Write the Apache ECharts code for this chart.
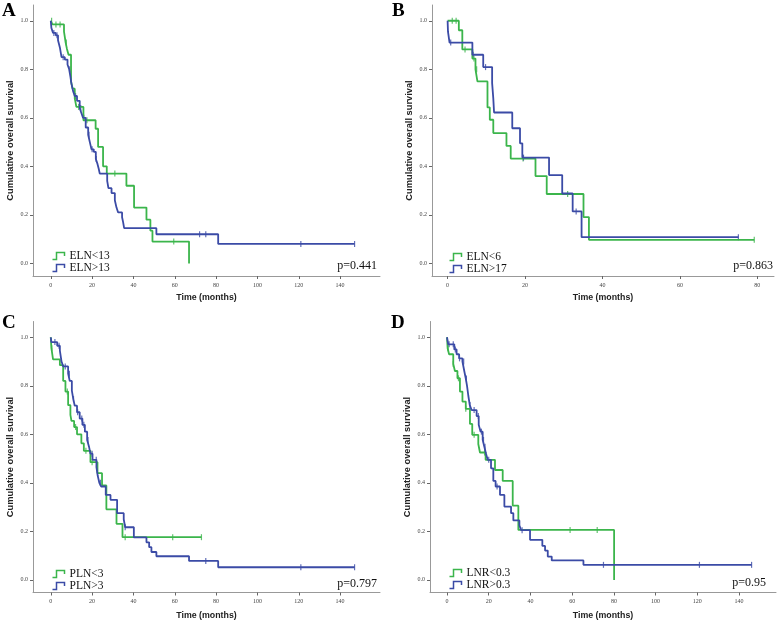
<!DOCTYPE html>
<html><head><meta charset="utf-8">
<script src="https://cdn.jsdelivr.net/npm/echarts@6/dist/echarts.min.js"></script>
<style>html,body{margin:0;padding:0;background:#fff}#c{width:778px;height:623px}</style>
</head><body><div id="c"></div><script>
// ---------- data (time in months, cumulative survival) ----------
const xTicksLong = [0, 20, 40, 60, 80, 100, 120, 140];
const xTicksShort = [0, 20, 40, 60, 80];
const yTicks = [0, 0.2, 0.4, 0.6, 0.8, 1.0];

// Panel A
const aGreenName = 'ELN<13';
const aGreenT = [0, 0.8, 6.4, 7.2, 7.8, 8.6, 9.8, 10.6, 11.6, 12.4, 15.8, 21.7, 22.9, 25.3, 27.1, 36.6, 40.3, 46.3, 48.2, 49.2, 66.9];
const aGreenS = [1.0, 0.985, 0.955, 0.91, 0.885, 0.86, 0.75, 0.72, 0.68, 0.645, 0.59, 0.555, 0.48, 0.40, 0.37, 0.32, 0.23, 0.18, 0.135, 0.09, 0.0];
const aGreenEnd = 66.9;
const aGreenCens = [0.4, 2.5, 4.5, 7.5, 13.5, 17.5, 31, 59.5];
const aBlueName = 'ELN>13';
const aBlueT = [0, 0.3, 1.1, 2.4, 3.5, 4.4, 5.2, 6.8, 8.1, 8.9, 9.5, 10.0, 10.8, 11.6, 12.7, 14.0, 14.8, 15.6, 16.9, 18.1, 18.9, 19.7, 20.8, 21.8, 22.6, 23.2, 23.7, 27.3, 27.9, 29.4, 31.0, 31.8, 32.6, 34.5, 35.0, 35.5, 51.1, 81.0];
const aBlueS = [1.0, 0.97, 0.95, 0.94, 0.92, 0.89, 0.85, 0.84, 0.82, 0.80, 0.77, 0.74, 0.71, 0.69, 0.67, 0.64, 0.62, 0.60, 0.56, 0.53, 0.50, 0.47, 0.46, 0.43, 0.41, 0.39, 0.37, 0.34, 0.31, 0.29, 0.26, 0.23, 0.21, 0.19, 0.17, 0.145, 0.12, 0.08];
const aBlueEnd = 147;
const aBlueCens = [1.5, 3, 6, 9.2, 12, 14.5, 16, 18.5, 20, 22, 72, 75, 121, 147];
const aP = 'p=0.441';

// Panel B
const bGreenName = 'ELN<6';
const bGreenT = [0, 2.9, 3.8, 6.4, 7.2, 7.7, 10.3, 10.9, 11.8, 15.2, 16.3, 22.7, 25.6, 35.1, 36.5];
const bGreenS = [1.0, 0.961, 0.882, 0.844, 0.80, 0.75, 0.643, 0.592, 0.537, 0.484, 0.432, 0.36, 0.286, 0.191, 0.097];
const bGreenEnd = 79.2;
const bGreenCens = [1.2, 2.2, 4.5, 6.8, 7.5, 19.5, 31, 79.2];
const bBlueName = 'ELN>17';
const bBlueT = [0, 0.1, 0.5, 6.4, 9.2, 11.5, 11.8, 12.0, 16.7, 18.7, 19.3, 26.2, 29.6, 32.3, 34.6];
const bBlueS = [1.0, 0.955, 0.91, 0.86, 0.809, 0.743, 0.68, 0.622, 0.557, 0.495, 0.436, 0.364, 0.288, 0.214, 0.108];
const bBlueEnd = 75.1;
const bBlueCens = [0.8, 6.6, 9.8, 19.6, 33.2, 75.1];
const bP = 'p=0.863';

// Panel C
const cGreenName = 'PLN<3';
const cGreenT = [0, 0.3, 1.1, 4.4, 6.0, 7.1, 8.4, 9.5, 10.0, 11.3, 12.7, 14.8, 16.0, 19.2, 22.6, 24.8, 26.9, 31.8, 34.7];
const cGreenS = [1.0, 0.955, 0.909, 0.885, 0.82, 0.776, 0.72, 0.68, 0.655, 0.63, 0.60, 0.563, 0.532, 0.485, 0.44, 0.389, 0.291, 0.231, 0.176];
const cGreenEnd = 72.9;
const cGreenCens = [0.5, 8, 12, 17, 20, 36, 59, 72.9];
const cBlueName = 'PLN>3';
const cBlueT = [0, 0.3, 3.1, 4.4, 5.2, 6.0, 8.4, 9.2, 10.2, 10.9, 11.6, 12.7, 14.0, 15.3, 16.5, 17.6, 18.5, 19.2, 20.2, 22.1, 22.7, 23.5, 24.4, 26.6, 28.9, 32.1, 35.3, 36.0, 40.2, 46.3, 47.6, 48.7, 51.1, 66.9, 81.0];
const cBlueS = [1.0, 0.98, 0.965, 0.945, 0.90, 0.88, 0.85, 0.82, 0.78, 0.745, 0.718, 0.691, 0.665, 0.639, 0.611, 0.577, 0.549, 0.52, 0.495, 0.465, 0.43, 0.40, 0.385, 0.35, 0.33, 0.275, 0.25, 0.217, 0.175, 0.155, 0.135, 0.115, 0.0975, 0.078, 0.052];
const cBlueEnd = 147;
const cBlueCens = [2, 4, 7, 9, 11, 13, 15, 16, 18, 20, 22, 24, 36, 75, 121, 147];
const cP = 'p=0.797';

// Panel D
const dGreenName = 'LNR<0.3';
const dGreenT = [0, 0.3, 1.0, 3.0, 3.8, 5.0, 6.2, 7.4, 9.0, 11.0, 12.1, 15.0, 15.8, 18.5, 23.0, 26.7, 31.5, 34.2, 80.1];
const dGreenS = [1.0, 0.955, 0.93, 0.89, 0.861, 0.831, 0.776, 0.735, 0.705, 0.643, 0.598, 0.56, 0.525, 0.495, 0.453, 0.408, 0.306, 0.206, 0.0];
const dGreenEnd = 80.1;
const dGreenCens = [0.5, 3, 5.5, 9, 13, 18, 59, 72];
const dBlueName = 'LNR>0.3';
const dBlueT = [0, 0.6, 3.5, 4.6, 5.8, 7.4, 8.3, 9.0, 9.6, 10.2, 10.9, 11.8, 14.2, 15.2, 16.1, 17.1, 17.9, 18.7, 19.5, 21.1, 22.2, 23.3, 25.4, 27.5, 30.7, 31.8, 34.7, 35.5, 39.8, 45.7, 47.0, 48.3, 50.2, 65.4];
const dBlueS = [1.0, 0.971, 0.95, 0.93, 0.913, 0.90, 0.86, 0.83, 0.80, 0.76, 0.721, 0.70, 0.675, 0.639, 0.611, 0.577, 0.549, 0.52, 0.495, 0.46, 0.408, 0.385, 0.35, 0.302, 0.275, 0.245, 0.225, 0.205, 0.165, 0.14, 0.121, 0.096, 0.08, 0.062];
const dBlueEnd = 146;
const dBlueCens = [1, 3, 4, 6, 8, 9.3, 11, 13, 15, 16.5, 17.5, 18.2, 20, 24, 36, 75, 121, 146];
const dP = 'p=0.95';

// ---------- styling ----------
const GREEN = '#3bb54b';
const BLUE = '#3b4ba6';
const AXIS = '#999999';
const SERIF = '"Liberation Serif", "Times New Roman", serif';
const SANS = '"Liberation Sans", Arial, sans-serif';

const panels = [
  { letter: 'A', grid: { left: 33, top: 5, width: 347, height: 271 }, xMin: -8.6, xMax: 159.3, xTicks: xTicksLong, nameGap: 17,
    g: [aGreenName, aGreenT, aGreenS, aGreenEnd, aGreenCens], b: [aBlueName, aBlueT, aBlueS, aBlueEnd, aBlueCens], p: aP,
    legendLeft: 50, legendTop: 250, pRight: 377, pY: 266, letterX: 2, letterY: 2 },
  { letter: 'B', grid: { left: 432, top: 5, width: 342, height: 271 }, xMin: -4.03, xMax: 84.3, xTicks: xTicksShort, nameGap: 17,
    g: [bGreenName, bGreenT, bGreenS, bGreenEnd, bGreenCens], b: [bBlueName, bBlueT, bBlueS, bBlueEnd, bBlueCens], p: bP,
    legendLeft: 447, legendTop: 251, pRight: 773, pY: 266, letterX: 392, letterY: 2 },
  { letter: 'C', grid: { left: 33, top: 321.5, width: 347, height: 271 }, xMin: -8.6, xMax: 159.3, xTicks: xTicksLong, nameGap: 19,
    g: [cGreenName, cGreenT, cGreenS, cGreenEnd, cGreenCens], b: [cBlueName, cBlueT, cBlueS, cBlueEnd, cBlueCens], p: cP,
    legendLeft: 50, legendTop: 568, pRight: 377, pY: 584, letterX: 2, letterY: 314 },
  { letter: 'D', grid: { left: 430, top: 321.5, width: 346, height: 271 }, xMin: -8.15, xMax: 157.7, xTicks: xTicksLong, nameGap: 19,
    g: [dGreenName, dGreenT, dGreenS, dGreenEnd, dGreenCens], b: [dBlueName, dBlueT, dBlueS, dBlueEnd, dBlueCens], p: dP,
    legendLeft: 447, legendTop: 567, pRight: 766, pY: 583, letterX: 391, letterY: 314 }
];

function stepData(T, S, end) {
  const d = T.map((t, i) => [t, S[i]]);
  if (end > T[T.length - 1]) d.push([end, S[S.length - 1]]);
  return d;
}
function survAt(T, S, t) {
  let v = S[0];
  for (let i = 0; i < T.length; i++) { if (T[i] <= t) v = S[i]; }
  return v;
}
const legendIcon = 'path://M0,7L4,7L4,0L12,0L12,3.5';

const option = {
  animation: false,
  backgroundColor: '#ffffff',
  grid: [], xAxis: [], yAxis: [], series: [], legend: [], graphic: []
};

panels.forEach((p, i) => {
  option.grid.push(Object.assign({ containLabel: false }, p.grid));
  option.xAxis.push({
    type: 'value', gridIndex: i, min: p.xMin, max: p.xMax,
    name: 'Time (months)', nameLocation: 'middle', nameGap: p.nameGap,
    nameTextStyle: { fontFamily: SANS, fontWeight: 'bold', fontSize: 8.8, color: '#222' },
    axisLine: { onZero: false, lineStyle: { color: AXIS, width: 1 } },
    axisTick: { show: true, inside: false, length: 3, customValues: p.xTicks, lineStyle: { color: '#666' } },
    axisLabel: { customValues: p.xTicks, margin: 6, fontFamily: SERIF, fontSize: 6, color: '#444' },
    splitLine: { show: false }
  });
  option.yAxis.push({
    type: 'value', gridIndex: i, min: -0.052, max: 1.065,
    name: 'Cumulative overall survival', nameLocation: 'middle', nameGap: 18,
    nameTextStyle: { fontFamily: SANS, fontWeight: 'bold', fontSize: 9.3, color: '#222' },
    axisLine: { onZero: false, lineStyle: { color: AXIS, width: 1 } },
    axisTick: { show: true, inside: false, length: 3, customValues: yTicks, lineStyle: { color: '#666' } },
    axisLabel: { customValues: yTicks, margin: 5, fontFamily: SERIF, fontSize: 6, color: '#444',
      formatter: v => v.toFixed(1) },
    splitLine: { show: false }
  });
  [[p.g, GREEN], [p.b, BLUE]].forEach(([grp, col]) => {
    const [name, T, S, end, cens] = grp;
    option.series.push({
      type: 'line', name: name, xAxisIndex: i, yAxisIndex: i, step: 'end',
      data: stepData(T, S, end), showSymbol: false, symbol: 'none',
      lineStyle: { color: col, width: 1.8 }, itemStyle: { color: col }, silent: true
    });
    option.series.push({
      type: 'scatter', name: name + ' censored', xAxisIndex: i, yAxisIndex: i,
      data: cens.map(t => [t, survAt(T, S, t)]),
      symbol: 'rect', symbolSize: [1.2, 6], itemStyle: { color: col }, silent: true
    });
  });
  option.legend.push({
    orient: 'vertical', left: p.legendLeft, top: p.legendTop, itemGap: 0,
    itemWidth: 12, itemHeight: 7, itemTextGap: 3, padding: 0, selectedMode: false,
    textStyle: { fontFamily: SERIF, fontSize: 11.5, color: '#111' },
    data: [
      { name: p.g[0], icon: legendIcon, itemStyle: { color: 'none', borderColor: GREEN, borderWidth: 1.5 } },
      { name: p.b[0], icon: legendIcon, itemStyle: { color: 'none', borderColor: BLUE, borderWidth: 1.5 } }
    ]
  });
  option.graphic.push({
    type: 'text', x: p.letterX, y: p.letterY,
    style: { text: p.letter, font: 'bold 19px ' + SERIF, fill: '#000' }
  });
  option.graphic.push({
    type: 'text', x: p.pRight, y: p.pY,
    style: { text: p.p, font: '12px ' + SERIF, fill: '#111', align: 'right', verticalAlign: 'middle' }
  });
});

const chart = echarts.init(document.getElementById('c'), null, { renderer: 'canvas' });
chart.setOption(option);
</script></body></html>
